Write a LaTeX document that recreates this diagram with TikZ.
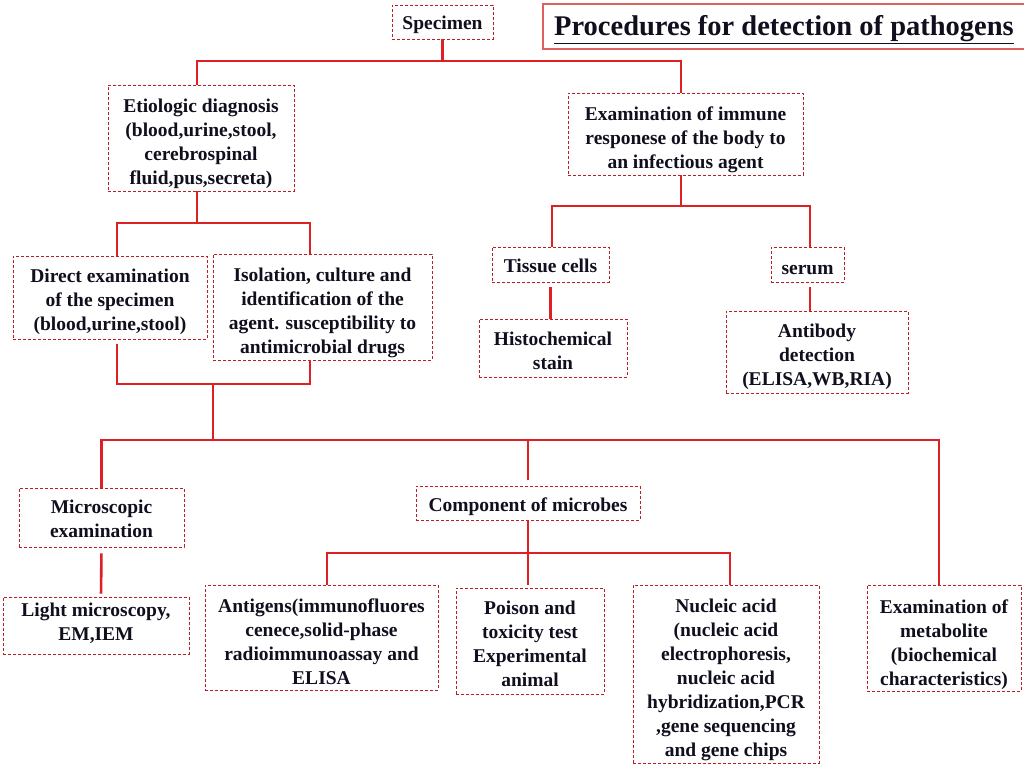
\documentclass[tikz,border=0pt]{standalone}
\usepackage{fontspec}
\setmainfont{Liberation Serif}
\definecolor{connred}{RGB}{222,32,36}
\definecolor{boxred}{RGB}{185,30,34}
\definecolor{ink}{RGB}{15,15,30}
\definecolor{titlered}{RGB}{225,95,95}
\newcommand{\tup}[1]{\rule{0pt}{#1pt}}
\newcommand{\tdn}[1]{\rule[-#1pt]{0pt}{#1pt}}
\tikzset{
  conn/.style={draw=connred, line width=2.6pt},
  box/.style={draw=boxred, dash pattern=on 3pt off 2pt, line width=0.9pt, inner sep=0pt, align=center, text=ink, font=\bfseries\fontsize{19.5}{24}\selectfont},
  sz/.style 2 args={minimum width=#1pt, minimum height=#2pt},
  titlebox/.style={draw=titlered, line width=1.4pt, inner sep=0pt, text=ink, font=\bfseries\fontsize{28.5}{30}\selectfont},
}
\begin{document}
\begin{tikzpicture}[x=1pt,y=-1pt]
\useasboundingbox (0,0) rectangle (1024,768);
\fill[white] (0,0) rectangle (1024,768);

\node[titlebox, sz={482}{45}] (title) at (784,26.5) {\tup{25.7}\underline{Procedures for detection of pathogens}};

\node[box, sz={101}{34}] (spec) at (442.5,22) {\tup{19.3}Specimen};
\node[box, sz={186}{106}] (etio) at (201,138) {\tup{24.3}Etiologic diagnosis\\(blood,urine,stool,\\cerebrospinal\\fluid,pus,secreta)};
\node[box, sz={235}{82}] (imm) at (685.5,134) {\tup{25.3}Examination of immune\\responese of the body to\\an infectious agent};
\node[box, sz={194}{83}] (direct) at (110,297.5) {\tup{21.3}Direct examination\\of the specimen\\(blood,urine,stool)};
\node[box, sz={219}{106}] (iso) at (322.5,307) {\tup{24.3}Isolation, culture and\\identification of the\\agent. susceptibility to\\antimicrobial drugs};
\node[box, sz={117}{35}] (tissue) at (550.5,264.5) {\tup{15.3}Tissue cells};
\node[box, sz={73}{35}] (serum) at (807.5,264.5) {\tup{19.3}serum};
\node[box, sz={148}{58}] (hist) at (553,348) {\tup{19.3}Histochemical\\stain};
\node[box, sz={182}{82}] (antib) at (817,352) {\tup{23.3}Antibody\\detection\\(ELISA,WB,RIA)};
\node[box, sz={165}{59}] (micro) at (101.5,517.5) {\tup{16.3}Microscopic\\examination};
\node[box, sz={224}{34}] (comp) at (528,503) {\tup{21.3}Component of microbes};
\node[box, sz={186}{57}] (light) at (96,625.5) {Light microscopy,\\EM,IEM\tdn{7.5}};
\node[box, sz={233}{105}] (antig) at (321.5,637.5) {\tup{21.3}Antigens(immunofluores\\cenece,solid-phase\\radioimmunoassay and\\ELISA};
\node[box, sz={148}{106}] (poison) at (530,641) {\tup{18.3}Poison and\\toxicity test\\Experimental\\animal};
\node[box, sz={186}{178}] (nucl) at (726,674) {\tup{25.3}Nucleic acid\\(nucleic acid\\electrophoresis,\\nucleic acid\\hybridization,PCR\\,gene sequencing\\and gene chips};
\node[box, sz={154}{106}] (metab) at (944,638) {\tup{26.3}Examination of\\metabolite\\(biochemical\\characteristics)};

\coordinate (j1) at (440,61);
\coordinate (j2) at (197,223);
\coordinate (j3) at (213,384);
\coordinate (j4) at (213,440);
\coordinate (j5) at (681,206);
\coordinate (j6) at (528,553);

\draw[conn] (spec.south) -- (spec.south |- j1);
\draw[conn] ([xshift=-4pt]etio.north) |- (j1) -| ([xshift=-4.5pt]imm.north);
\draw[conn] ([xshift=-4pt]etio.south) -- (j2);
\draw[conn] ([xshift=7pt]direct.north) |- (j2) -| ([xshift=-12.5pt]iso.north);
\draw[conn, shorten <=5pt] ([xshift=7pt]direct.south) |- (j3) -| ([xshift=-12.5pt]iso.south);
\draw[conn] (j3) -- (j4);
\draw[conn] (micro.north) |- (j4) -| ([xshift=-5pt]metab.north);
\draw[conn, shorten <=6pt] (comp.north) -- (comp.north |- j4);
\draw[conn, shorten <=6pt, shorten >=3pt] (micro.south) -- ([xshift=5pt]light.north);
\draw[conn, shorten >=3pt] (comp.south) -- (comp.south |- poison.north);
\draw[conn] ([xshift=5.5pt]antig.north) |- (j6) -| ([xshift=4pt]nucl.north);
\draw[conn] ([xshift=-4.5pt]imm.south) -- (j5);
\draw[conn] ([xshift=1.5pt]tissue.north) |- (j5) -| ([xshift=2.5pt]serum.north);
\draw[conn, shorten <=5pt] (tissue.south) -- (tissue.south |- hist.north);
\draw[conn, shorten <=5pt] ([xshift=2.5pt]serum.south) -- ([xshift=-7pt]antib.north);
\end{tikzpicture}
\end{document}
